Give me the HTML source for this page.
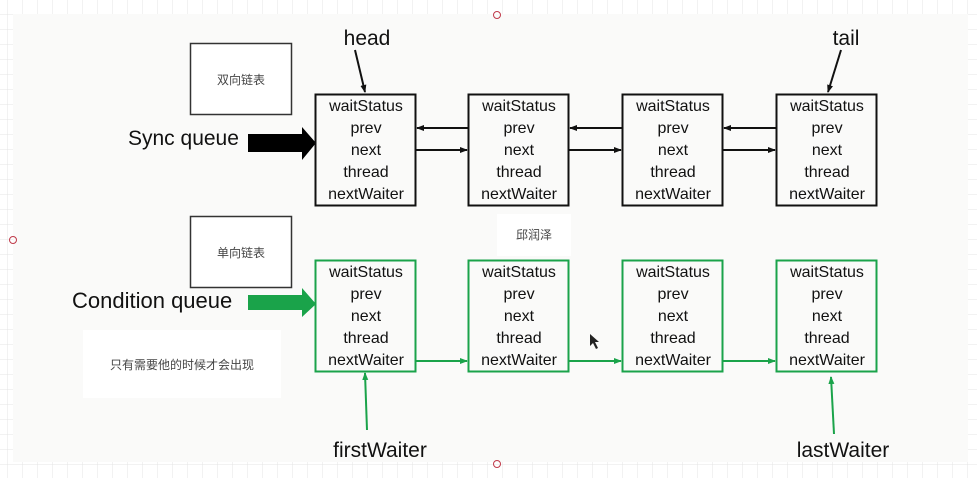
<!DOCTYPE html>
<html><head><meta charset="utf-8"><style>
body{margin:0;width:977px;height:478px;overflow:hidden;background:#fff;}
svg{display:block}
text{font-family:"Liberation Sans","Noto Sans CJK SC",sans-serif;}
</style></head><body>
<svg width="977" height="478" viewBox="0 0 977 478" xmlns="http://www.w3.org/2000/svg">
<defs>
<pattern id="g" width="15" height="15" patternUnits="userSpaceOnUse" x="8" y="0">
<path d="M15 0V15M0 15H15" stroke="#e4e4e4" stroke-width="1" fill="none"/>
</pattern>
<marker id="ab" markerWidth="8" markerHeight="8" refX="7" refY="4" orient="auto" markerUnits="userSpaceOnUse"><path d="M0,1 L8,4 L0,7z" fill="#111"/></marker>
<marker id="ag" markerWidth="8" markerHeight="8" refX="7" refY="4" orient="auto" markerUnits="userSpaceOnUse"><path d="M0,1 L8,4 L0,7z" fill="#1aa34a"/></marker>
</defs>
<rect width="977" height="478" fill="url(#g)"/>
<rect x="13" y="14" width="955" height="448" fill="#fafaf9"/>
<g fill="none" stroke="#c03a4a" stroke-width="1"><circle cx="497" cy="15" r="3.5"/><circle cx="13" cy="240" r="3.5"/><circle cx="497" cy="464" r="3.5"/></g>

<rect x="190.5" y="43.5" width="101" height="71" fill="#fff" stroke="#333" stroke-width="1.5"/>
<text x="241" y="84" font-size="12" text-anchor="middle" fill="#444">双向链表</text>
<rect x="190.5" y="216.5" width="101" height="71" fill="#fff" stroke="#333" stroke-width="1.5"/>
<text x="241" y="257" font-size="12" text-anchor="middle" fill="#444">单向链表</text>
<rect x="83" y="330" width="198" height="68" fill="#fff"/>
<text x="182" y="369" font-size="12" text-anchor="middle" fill="#444">只有需要他的时候才会出现</text>
<rect x="497" y="214" width="74" height="42" fill="#fff"/>
<text x="534" y="239" font-size="12" text-anchor="middle" fill="#444">邱润泽</text>

<text x="128" y="145" font-size="21" fill="#111">Sync queue</text>
<path d="M248,134 H302 V127 L316,143 L302,160 V152 H248z" fill="#000"/>
<text x="72" y="308" font-size="22" fill="#111">Condition queue</text>
<path d="M248,295 H302 V288 L316,304 L302,317 V310 H248z" fill="#1aa34a"/>

<g font-size="21" fill="#111" text-anchor="middle">
<text x="367" y="45">head</text>
<text x="846" y="45">tail</text>
<text x="380" y="457">firstWaiter</text>
<text x="843" y="457">lastWaiter</text>
</g>
<line x1="355" y1="50" x2="365" y2="92" stroke="#111" stroke-width="2" marker-end="url(#ab)"/>
<line x1="841" y1="50" x2="828" y2="92" stroke="#111" stroke-width="2" marker-end="url(#ab)"/>
<line x1="367" y1="430" x2="365" y2="373" stroke="#1aa34a" stroke-width="2" marker-end="url(#ag)"/>
<line x1="834" y1="434" x2="831" y2="377" stroke="#1aa34a" stroke-width="2" marker-end="url(#ag)"/>

<g>
<rect x="315.5" y="94.5" width="100" height="111" fill="none" stroke="#111" stroke-width="2"/>
<rect x="468.5" y="94.5" width="100" height="111" fill="none" stroke="#111" stroke-width="2"/>
<rect x="622.5" y="94.5" width="100" height="111" fill="none" stroke="#111" stroke-width="2"/>
<rect x="776.5" y="94.5" width="100" height="111" fill="none" stroke="#111" stroke-width="2"/>
<rect x="315.5" y="260.5" width="100" height="111" fill="none" stroke="#1aa34a" stroke-width="2"/>
<rect x="468.5" y="260.5" width="100" height="111" fill="none" stroke="#1aa34a" stroke-width="2"/>
<rect x="622.5" y="260.5" width="100" height="111" fill="none" stroke="#1aa34a" stroke-width="2"/>
<rect x="776.5" y="260.5" width="100" height="111" fill="none" stroke="#1aa34a" stroke-width="2"/>
</g>
<g font-size="16" fill="#111" text-anchor="middle">
<g transform="translate(366,0)"><text y="111">waitStatus</text><text y="133">prev</text><text y="155">next</text><text y="177">thread</text><text y="199">nextWaiter</text></g>
<g transform="translate(519,0)"><text y="111">waitStatus</text><text y="133">prev</text><text y="155">next</text><text y="177">thread</text><text y="199">nextWaiter</text></g>
<g transform="translate(673,0)"><text y="111">waitStatus</text><text y="133">prev</text><text y="155">next</text><text y="177">thread</text><text y="199">nextWaiter</text></g>
<g transform="translate(827,0)"><text y="111">waitStatus</text><text y="133">prev</text><text y="155">next</text><text y="177">thread</text><text y="199">nextWaiter</text></g>
<g transform="translate(366,166)"><text y="111">waitStatus</text><text y="133">prev</text><text y="155">next</text><text y="177">thread</text><text y="199">nextWaiter</text></g>
<g transform="translate(519,166)"><text y="111">waitStatus</text><text y="133">prev</text><text y="155">next</text><text y="177">thread</text><text y="199">nextWaiter</text></g>
<g transform="translate(673,166)"><text y="111">waitStatus</text><text y="133">prev</text><text y="155">next</text><text y="177">thread</text><text y="199">nextWaiter</text></g>
<g transform="translate(827,166)"><text y="111">waitStatus</text><text y="133">prev</text><text y="155">next</text><text y="177">thread</text><text y="199">nextWaiter</text></g>
</g>
<g stroke="#111" stroke-width="2">
<line x1="468" y1="128" x2="417" y2="128" marker-end="url(#ab)"/>
<line x1="416" y1="150" x2="467" y2="150" marker-end="url(#ab)"/>
<line x1="622" y1="128" x2="570" y2="128" marker-end="url(#ab)"/>
<line x1="569" y1="150" x2="621" y2="150" marker-end="url(#ab)"/>
<line x1="776" y1="128" x2="724" y2="128" marker-end="url(#ab)"/>
<line x1="723" y1="150" x2="775" y2="150" marker-end="url(#ab)"/>
</g>
<g stroke="#1aa34a" stroke-width="2">
<line x1="416" y1="361" x2="467" y2="361" marker-end="url(#ag)"/>
<line x1="569" y1="361" x2="621" y2="361" marker-end="url(#ag)"/>
<line x1="723" y1="361" x2="775" y2="361" marker-end="url(#ag)"/>
</g>
<path d="M590,334 L590,346 L593,343 L596,349 L598,348 L595,342 L599,342z" fill="#222"/>
</svg>
</body></html>
